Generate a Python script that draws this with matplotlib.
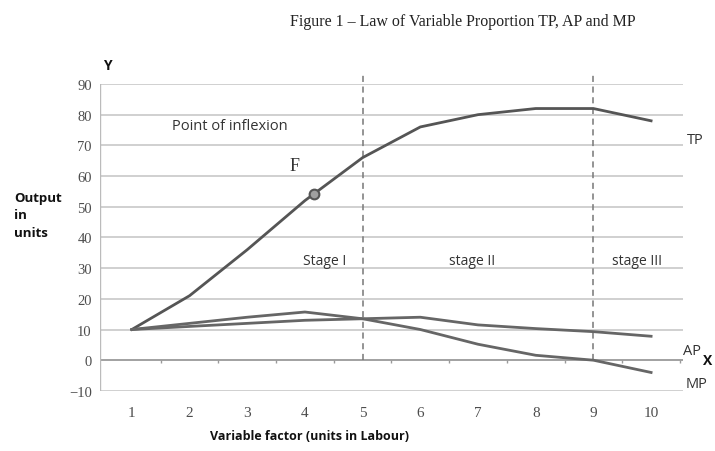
import numpy as np
import matplotlib
matplotlib.use("Agg")
import matplotlib.pyplot as plt

# units of labour and the three product curves
labour = [1, 2, 3, 4, 5, 6, 7, 8, 9, 10]
tp = [10, 21, 36, 52, 66, 76, 80, 82, 82, 78]
ap = [10, 11, 12, 13, 13.5, 14, 11.5, 10.3, 9.3, 7.8]
mp = [10, 12, 14, 15.7, 13.5, 10, 5.2, 1.6, 0, -4]

stage_bounds = [5, 9]
stage_names = ["Stage I", "stage II", "stage III"]
stage_x = [4.35, 6.9, 9.75]
inflexion_x = 4.15
y_ticks = list(range(-10, 91, 10))

SANS = "Open Sans"
SERIF = "Liberation Serif"
INK = "#333333"

fig = plt.figure(figsize=(7.15, 4.52), dpi=100)
ax = fig.add_axes([0.14, 0.133, 0.815, 0.679])
ax.set_xlim(0.45, 10.55)
ax.set_ylim(-10, 90)

for s in ax.spines.values():
    s.set_visible(False)
ax.axvline(0.45, color="#bbbbbb", lw=1)

# horizontal gridlines
for y in y_ticks:
    ax.axhline(y, color="#c4c4c4", lw=1.1, zorder=0)
ax.axhline(0, color="#9a9a9a", lw=1.2, zorder=1)
ax.vlines(np.arange(1.5, 10.6, 1.0), -1.0, 0, color="#9a9a9a", lw=1)

ax.set_yticks(y_ticks)
ax.set_xticks(labour)
ax.tick_params(length=0, pad=6)
for lbl in ax.get_yticklabels() + ax.get_xticklabels():
    lbl.set_fontfamily(SERIF)
    lbl.set_color("#4d4d4d")
for lbl in ax.get_yticklabels():
    lbl.set_fontsize(10.5)
for lbl in ax.get_xticklabels():
    lbl.set_fontsize(11)
ax.tick_params(axis="x", pad=11)

# stage boundaries
for b in stage_bounds:
    ax.plot([b, b], [0, 93], color="#777777", lw=1.1, ls=(0, (4, 3)),
            clip_on=False, zorder=2)

ax.plot(labour, tp, color="#555555", lw=2.0, zorder=3)
ax.plot(labour, ap, color="#666666", lw=2.0, zorder=3)
ax.plot(labour, mp, color="#666666", lw=2.0, zorder=3)

f_y = np.interp(inflexion_x, labour, tp)
ax.plot(inflexion_x, f_y, "o", ms=7, mfc="#a0a0a0", mec="#555555", mew=1.5,
        zorder=4)
ax.text(inflexion_x - 0.33, f_y + 6.5, "F", fontfamily=SERIF, fontsize=13,
        color=INK, ha="center", va="bottom")
ax.text(2.7, 76.5, "Point of inflexion", fontfamily=SANS, fontsize=10.5,
        color=INK, ha="center", va="center")

for name, sx in zip(stage_names, stage_x):
    ax.text(sx, 32.5, name, fontfamily=SANS, fontsize=10, color=INK,
            ha="center", va="center")

# curve names at the right end
ax.text(10.62, tp[-1] - 6, "TP", fontfamily=SANS, fontsize=10.5, color=INK,
        va="center", clip_on=False)
ax.text(10.55, ap[-1] - 4.5, "AP", fontfamily=SANS, fontsize=10.5, color=INK,
        va="center", clip_on=False)
ax.text(10.6, mp[-1] - 3.5, "MP", fontfamily=SANS, fontsize=10.5, color=INK,
        va="center", clip_on=False)

fig.text(703 / 715, (452 - 361) / 452, "X", fontfamily=SANS, fontsize=10,
         fontweight="bold", color="#111111", ha="left", va="center")
fig.text(103 / 715, (452 - 66) / 452, "Y", fontfamily=SANS, fontsize=10,
         fontweight="bold", color="#111111", ha="left", va="center")

fig.text(14 / 715, (452 - 216) / 452, "Output\nin\nunits", fontfamily=SANS,
         fontsize=9.5, fontweight="bold", color="#111111", ha="left",
         va="center", linespacing=1.45)
fig.text(310 / 715, (452 - 437) / 452, "Variable factor (units in Labour)",
         fontfamily=SANS, fontsize=9, fontweight="bold", color="#111111",
         ha="center", va="center")

fig.text(463 / 715, (452 - 22) / 452,
         "Figure 1 \u2013 Law of Variable Proportion TP, AP and MP",
         fontfamily=SERIF, fontsize=11.5, color="#222222", ha="center",
         va="center")

fig.savefig("out.png", dpi=100)
